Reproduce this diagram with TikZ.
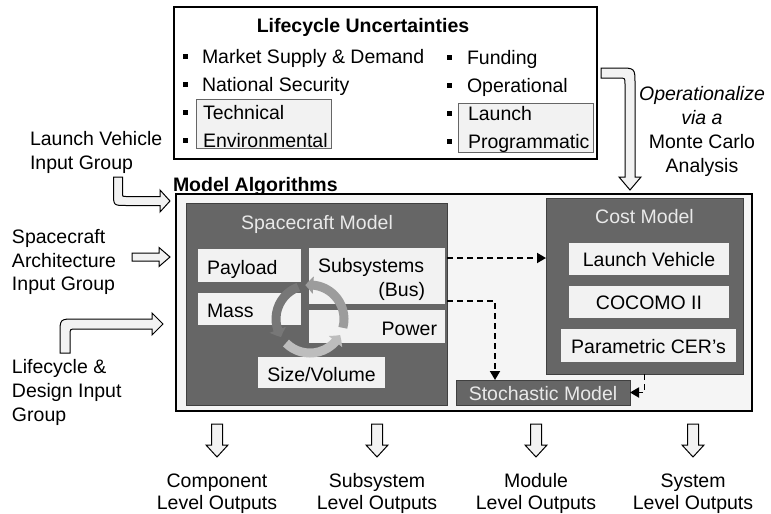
\documentclass[tikz,border=0pt]{standalone}
\usepackage{fontspec}
\setmainfont{Liberation Sans}
\usetikzlibrary{arrows.meta,fit,calc,bending}
\definecolor{dk}{HTML}{666666}
\definecolor{lt}{HTML}{F2F2F2}
\definecolor{bg}{HTML}{F5F5F5}
\definecolor{ttl}{HTML}{E9E9E9}
\definecolor{ringA}{HTML}{9C9C9C}
\definecolor{ringB}{HTML}{777777}
\definecolor{ringC}{HTML}{BDBDBD}
\begin{document}
\begin{tikzpicture}[x=1pt,y=-1pt,
  every node/.style={font=\fontsize{19.5}{23.5}\selectfont, inner sep=0pt, outer sep=0pt},
  frame/.style={draw=black, line width=1.2pt},
  darkbox/.style={fill=dk, draw=black!75, line width=0.8pt, inner sep=0pt},
  litebox/.style={fill=lt, draw=none, inner sep=0pt},
  grpbox/.style={fill=lt, draw=black!60, line width=0.8pt, inner sep=0pt},
  bul/.style={fill=black, minimum size=5pt},
  txt/.style={anchor=base west},
  ctxt/.style={anchor=base},
  rtxt/.style={anchor=base east},
  wtxt/.style={anchor=base, text=ttl},
  blockarrow/.style={fill=lt, draw=black, line width=1pt, line join=miter},
  dasharrow/.style={draw=black, line width=1.8pt, dash pattern=on 6pt off 4pt, -{Triangle[length=9pt,width=10pt]}},
  ring/.style={line width=9pt, -{Triangle[length=8pt,width=17pt,bend]}}
]
\useasboundingbox (0,0) rectangle (771,514);

% ---------- Lifecycle uncertainties box ----------
\node[frame, fill=white, fit={(174,7) (597,159)}] (lu) {};
\node[anchor=base, font=\fontsize{19.5}{23.5}\selectfont\bfseries] (lut) at (363,32) {Lifecycle Uncertainties};
\node[grpbox, fit={(196,99) (331,148)}] (g1) {};
\node[grpbox, fit={(458,103) (593,152)}] (g2) {};
\node[bul] (b1) at (185,56) {};
\node[bul] (b2) at (185,84) {};
\node[bul] (b3) at (185,112) {};
\node[bul] (b4) at (185,140) {};
\node[bul] (b5) at (449,57) {};
\node[bul] (b6) at (449,85) {};
\node[bul] (b7) at (449,113) {};
\node[bul] (b8) at (449,141) {};
\node[txt] (u1) at (202,63) {Market Supply \& Demand};
\node[txt] (u2) at (202,91) {National Security};
\node[txt] (u3) at (203,119) {Technical};
\node[txt] (u4) at (203,147) {Environmental};
\node[txt] (u5) at (467,64) {Funding};
\node[txt] (u6) at (467,92) {Operational};
\node[txt] (u7) at (468,120) {Launch};
\node[txt] (u8) at (468,148) {Programmatic};

% ---------- Operationalize arrow and text ----------
\draw[blockarrow] (601,68) -- (619,68) .. controls (635,68) .. (635,84) -- (635,177) -- (641,177) -- (630,190) -- (619,177) -- (625,177) -- (625,84) .. controls (625,78) .. (619,78) -- (601,78) -- cycle;
\node[ctxt, font=\fontsize{19.5}{23.5}\selectfont\itshape] (op1) at (702,100) {Operationalize};
\node[ctxt, font=\fontsize{19.5}{23.5}\selectfont\itshape] (op2) at (702,124) {via a};
\node[ctxt] (op3) at (702,148) {Monte Carlo};
\node[ctxt] (op4) at (702,172) {Analysis};

% ---------- Model algorithms ----------
\node[anchor=base west, font=\fontsize{19.5}{23.5}\selectfont\bfseries] (mat) at (173,191) {Model Algorithms};
\node[frame, fill=bg, fit={(176,194) (752,411)}] (ma) {};

% Spacecraft model
\node[darkbox, fit={(186,203) (447,405)}] (sc) {};
\node[wtxt] (sct) at (317,229) {Spacecraft Model};
\node[litebox, fit={(198,249) (301,282)}] (pay) {};
\node[litebox, fit={(198,293) (301,325)}] (mass) {};
\node[litebox, fit={(309,248) (445,304)}] (sub) {};
\node[litebox, fit={(309,310) (445,343)}] (pow) {};
\node[litebox, fit={(258,357) (385,388)}] (siz) {};

% cycle ring
\coordinate (rc) at (310,319);
\draw[ring, draw=ringA] ($(rc)+(15:34)$) arc[start angle=15, end angle=-98, radius=34];
\draw[ring, draw=ringB] ($(rc)+(-110:34)$) arc[start angle=-110, end angle=-212, radius=34];
\draw[ring, draw=ringC] ($(rc)+(-225:34)$) arc[start angle=-225, end angle=-332, radius=34];

\node[txt] (payt) at (207,274) {Payload};
\node[txt] (masst) at (207,317) {Mass};
\node[txt] (subt) at (318,272) {Subsystems};
\node[rtxt] (bust) at (425,296) {(Bus)};
\node[rtxt] (powt) at (437,335) {Power};
\node[ctxt] (sizt) at (321.5,381) {Size/Volume};

% Cost model
\node[darkbox, fit={(546,198) (743,374)}] (cm) {};
\node[wtxt] (cmt) at (644.5,223) {Cost Model};
\node[litebox, fit={(569,243) (729,275)}] (lv) {};
\node[litebox, fit={(569,286) (729,318)}] (coc) {};
\node[litebox, fit={(561,329) (736,362)}] (cer) {};
\node[ctxt] (lvt) at (649,266) {Launch Vehicle};
\node[ctxt] (coct) at (649,309) {COCOMO II};
\node[ctxt] (cert) at (648.5,353) {Parametric CER's};

% Stochastic model
\node[darkbox, fit={(456,380) (630,405)}] (st) {};
\node[wtxt] (stt) at (543,400) {Stochastic Model};

% dashed connectors
\draw[dasharrow] ([yshift=46pt]sc.east) -- ([yshift=46pt]sc.east -| cm.west);
\draw[dasharrow] ([yshift=3pt]sc.east) -| ([xshift=-48pt]st.north);
\draw[dasharrow] (cm.south) |- (st.east);

% ---------- Input groups ----------
\node[txt] (lv1) at (30,145) {Launch Vehicle};
\node[txt] (lv2) at (30,169) {Input Group};
\draw[blockarrow] (113.5,177) -- (113.5,193) .. controls (113.5,205.5) .. (126,205.5) -- (160,205.5) -- (160,212) -- (170,201) -- (160,190) -- (160,196.5) -- (126,196.5) .. controls (122.5,196.5) .. (122.5,193) -- (122.5,177) -- cycle;

\node[txt] (sa1) at (12,243) {Spacecraft};
\node[txt] (sa2) at (12,267) {Architecture};
\node[txt] (sa3) at (12,290) {Input Group};
\draw[blockarrow] (132,253) -- (159,253) -- (159,247.5) -- (170,257) -- (159,266.5) -- (159,261) -- (132,261) -- cycle;

\node[txt] (ld1) at (12,373) {Lifecycle \&};
\node[txt] (ld2) at (12,397) {Design Input};
\node[txt] (ld3) at (12,421) {Group};
\draw[blockarrow] (60,353) -- (60,334) .. controls (60,319) .. (75,319) -- (152,319) -- (152,313) -- (163,324) -- (152,335) -- (152,329) -- (76,329) .. controls (70,329) .. (70,335) -- (70,353) -- cycle;

% ---------- Outputs ----------
\foreach \cx in {217,377,536,693}{
  \draw[blockarrow] (\cx-5.5,424) -- (\cx-5.5,445) -- (\cx-11,445) -- (\cx,457) -- (\cx+11,445) -- (\cx+5.5,445) -- (\cx+5.5,424) -- cycle;
}
\node[ctxt] (o1a) at (217,487) {Component};
\node[ctxt] (o1b) at (217,509) {Level Outputs};
\node[ctxt] (o2a) at (377,487) {Subsystem};
\node[ctxt] (o2b) at (377,509) {Level Outputs};
\node[ctxt] (o3a) at (536,487) {Module};
\node[ctxt] (o3b) at (536,509) {Level Outputs};
\node[ctxt] (o4a) at (693,487) {System};
\node[ctxt] (o4b) at (693,509) {Level Outputs};
\end{tikzpicture}
\end{document}
